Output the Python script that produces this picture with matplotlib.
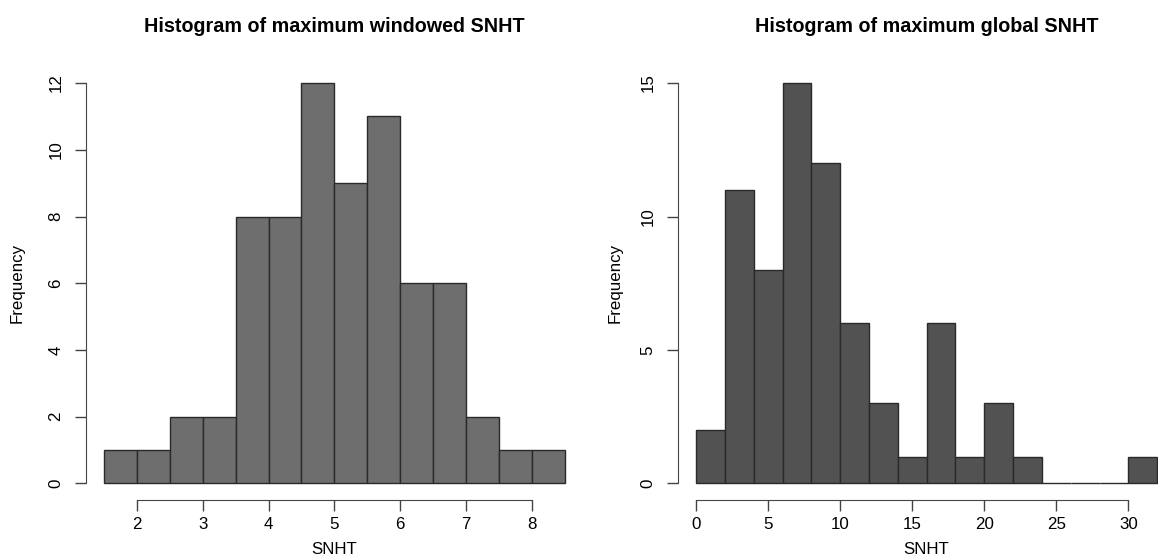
import matplotlib
matplotlib.use('Agg')
from matplotlib import pyplot as plt
import numpy as np

plt.rcParams['font.family'] = ['Liberation Sans', 'DejaVu Sans']

# left: maximum windowed SNHT
win_edges = [1.5, 2.0, 2.5, 3.0, 3.5, 4.0, 4.5, 5.0, 5.5, 6.0, 6.5, 7.0, 7.5, 8.0, 8.5]
win_counts = [1, 1, 2, 2, 8, 8, 12, 9, 11, 6, 6, 2, 1, 1]
win_xticks = [2, 3, 4, 5, 6, 7, 8]
win_yticks = [0, 2, 4, 6, 8, 10, 12]

# right: maximum global SNHT
glob_edges = [0, 2, 4, 6, 8, 10, 12, 14, 16, 18, 20, 22, 24, 26, 28, 30, 32]
glob_counts = [2, 11, 8, 15, 12, 6, 3, 1, 6, 1, 3, 1, 0, 0, 0, 1]
glob_xticks = [0, 5, 10, 15, 20, 25, 30]
glob_yticks = [0, 5, 10, 15]

W, H = 1158, 558
fig = plt.figure(figsize=(W / 100, H / 100), dpi=100)


def draw(rect, edges, counts, xticks, yticks, color, title, flab_px):
    ax = fig.add_axes(rect)
    edges = np.array(edges, dtype=float)
    ax.bar(edges[:-1], counts, width=np.diff(edges), align='edge',
           color=color, edgecolor='#2a2a2a', linewidth=1.0)
    span = edges[-1] - edges[0]
    ax.set_xlim(edges[0] - 0.04 * span, edges[-1] + 0.04 * span)
    ymax = max(yticks)
    ax.set_ylim(-0.04 * ymax, ymax * 1.04)
    ax.spines['top'].set_visible(False)
    ax.spines['right'].set_visible(False)
    for s in ('left', 'bottom'):
        ax.spines[s].set_color('#444444')
    ax.spines['left'].set_bounds(min(yticks), max(yticks))
    ax.spines['bottom'].set_bounds(min(xticks), max(xticks))
    ax.set_xticks(xticks)
    ax.set_yticks(yticks)
    ax.tick_params(direction='out', length=8, width=1, color='#444444',
                   labelsize=12.2)
    ax.tick_params(axis='x', pad=4.5)
    ax.tick_params(axis='y', pad=8)
    plt.setp(ax.get_yticklabels(), rotation=90, va='center')
    ax.set_xlabel('SNHT', fontsize=12.2)
    ax.set_ylabel('Frequency', fontsize=12.2)
    ax_w = rect[2] * W
    ax_h = rect[3] * H
    ax.xaxis.set_label_coords(0.5, -42 / ax_h)
    ax.yaxis.set_label_coords(flab_px / ax_w, 0.5)
    ax.set_title(title, fontsize=14.2, fontweight='bold', pad=25.5)
    return ax


bottom = 58.5 / H
height = 432.5 / H
draw([85.7 / W, bottom, 497.3 / W, height], win_edges, win_counts,
     win_xticks, win_yticks, '#6e6e6e',
     'Histogram of maximum windowed SNHT', -61)
draw([677.6 / W, bottom, 498 / W, height], glob_edges, glob_counts,
     glob_xticks, glob_yticks, '#525252',
     'Histogram of maximum global SNHT', -55)

fig.savefig('out.png', dpi=100)
